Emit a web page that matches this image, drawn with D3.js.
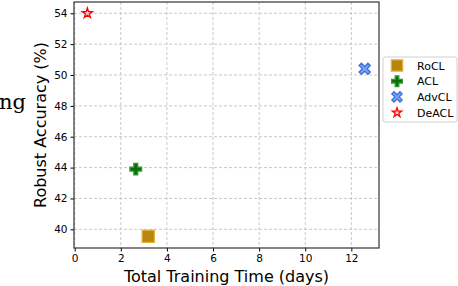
<!DOCTYPE html>
<html>
<head>
<meta charset="utf-8">
<script src="https://cdn.jsdelivr.net/npm/d3@7"></script>
<style>
  body { margin: 0; background: #fff; }
  svg { display: block; font-family: "DejaVu Sans", sans-serif; }
</style>
</head>
<body>
<div class="chart"></div>
<script>
// data
const methods = ["RoCL", "ACL", "AdvCL", "DeACL"];
const trainDays = [3.19, 2.65, 12.58, 0.55];
const robustAcc = [39.55, 43.9, 50.4, 54.0];
const xTicks = [0, 2, 4, 6, 8, 10, 12];
const yTicks = [40, 42, 44, 46, 48, 50, 52, 54];

const W = 458, H = 286;
const margin = {top: 2, right: 79, bottom: 38, left: 74};
const width = W - margin.left - margin.right;
const height = H - margin.top - margin.bottom;

const svg = d3.select(".chart").append("svg")
    .attr("width", W)
    .attr("height", H);

// cropped text from neighbouring figure
svg.append("text")
    .attr("x", -1).attr("y", 109)
    .attr("font-family", "'DejaVu Serif', 'Liberation Serif', serif")
    .attr("font-size", 21)
    .text("ng");

const g = svg.append("g")
    .attr("transform", "translate(" + margin.left + "," + margin.top + ")");

const xScale = d3.scaleLinear().domain([-0.03, 13.2]).range([0, width]);
const yScale = d3.scaleLinear().domain([38.79, 54.73]).range([height, 0]);

// grid
g.append("g").selectAll("line").data(xTicks).join("line")
    .attr("x1", d => xScale(d)).attr("x2", d => xScale(d))
    .attr("y1", 0).attr("y2", height)
    .attr("stroke", "#c8c8c8").attr("stroke-dasharray", "3,2");
g.append("g").selectAll("line").data(yTicks).join("line")
    .attr("y1", d => yScale(d)).attr("y2", d => yScale(d))
    .attr("x1", 0).attr("x2", width)
    .attr("stroke", "#c8c8c8").attr("stroke-dasharray", "3,2");

// axes
const xAxis = d3.axisBottom(xScale).tickValues(xTicks).tickSize(3.5).tickPadding(3);
const yAxis = d3.axisLeft(yScale).tickValues(yTicks).tickSize(3.5).tickPadding(3);

g.append("g").attr("class", "x-axis")
    .attr("transform", "translate(0," + height + ")")
    .call(xAxis);
g.append("g").attr("class", "y-axis").call(yAxis);

svg.selectAll(".x-axis text, .y-axis text")
    .attr("font-size", 10.5).attr("fill", "#000")
    .attr("font-family", "'DejaVu Sans', sans-serif");
svg.selectAll(".domain").remove();
svg.selectAll(".tick line").attr("stroke", "#000");

// frame
g.append("rect")
    .attr("x", 0).attr("y", 0).attr("width", width).attr("height", height)
    .attr("fill", "none").attr("stroke", "#333").attr("stroke-width", 1.2);

// labels
svg.append("text")
    .attr("x", margin.left + width / 2).attr("y", 282)
    .attr("text-anchor", "middle").attr("font-size", 16)
    .text("Total Training Time (days)");
svg.append("text")
    .attr("transform", "translate(46," + (margin.top + height / 2) + ") rotate(-90)")
    .attr("text-anchor", "middle").attr("font-size", 16)
    .text("Robust Accuracy (%)");

// markers
const styles = {
  RoCL:  {fill: "#b8860b", stroke: "#e2b33c", shape: d3.symbolSquare, size: 150},
  ACL:   {fill: "#0a6e0a", stroke: "#2e9a2e", shape: d3.symbolCross, size: 75},
  AdvCL: {fill: "#7da3ef", stroke: "#3a6fe0", shape: "X", size: 125},
  DeACL: {fill: "#ffd0d0", stroke: "#ff0000", shape: d3.symbolStar, size: 32}
};

function xPath(size) {
  // filled "X" marker
  const s = Math.sqrt(size) / 2, t = s * 0.42;
  const pts = [[-s, -s + t], [-s + t, -s], [0, -t], [s - t, -s], [s, -s + t], [t, 0],
               [s, s - t], [s - t, s], [0, t], [-s + t, s], [-s, s - t], [-t, 0]];
  return "M" + pts.map(p => p.join(",")).join("L") + "Z";
}
function markerPath(name, k) {
  const st = styles[name];
  if (st.shape === "X") return xPath(st.size * k);
  return d3.symbol(st.shape, st.size * k)();
}

g.selectAll(".pt").data(methods).join("path")
    .attr("class", "pt")
    .attr("transform", (d, i) => "translate(" + xScale(trainDays[i]) + "," + yScale(robustAcc[i]) + ")")
    .attr("d", d => markerPath(d, 1))
    .attr("fill", d => styles[d].fill)
    .attr("stroke", d => styles[d].stroke)
    .attr("stroke-width", 1.3);

// legend
const leg = svg.append("g").attr("transform", "translate(383,57)");
leg.append("rect")
    .attr("x", 0).attr("y", 0).attr("width", 74).attr("height", 65).attr("rx", 2)
    .attr("fill", "#fff").attr("stroke", "#d0d0d0");
const rows = leg.selectAll(".row").data(methods).join("g")
    .attr("class", "row")
    .attr("transform", (d, i) => "translate(14," + (8.5 + i * 15.7) + ")");
rows.append("path")
    .attr("d", d => markerPath(d, 0.85))
    .attr("fill", d => styles[d].fill)
    .attr("stroke", d => styles[d].stroke)
    .attr("stroke-width", 1.3);
rows.append("text")
    .attr("x", 20).attr("y", 4)
    .attr("font-size", 11)
    .text(d => d);
</script>
</body>
</html>
